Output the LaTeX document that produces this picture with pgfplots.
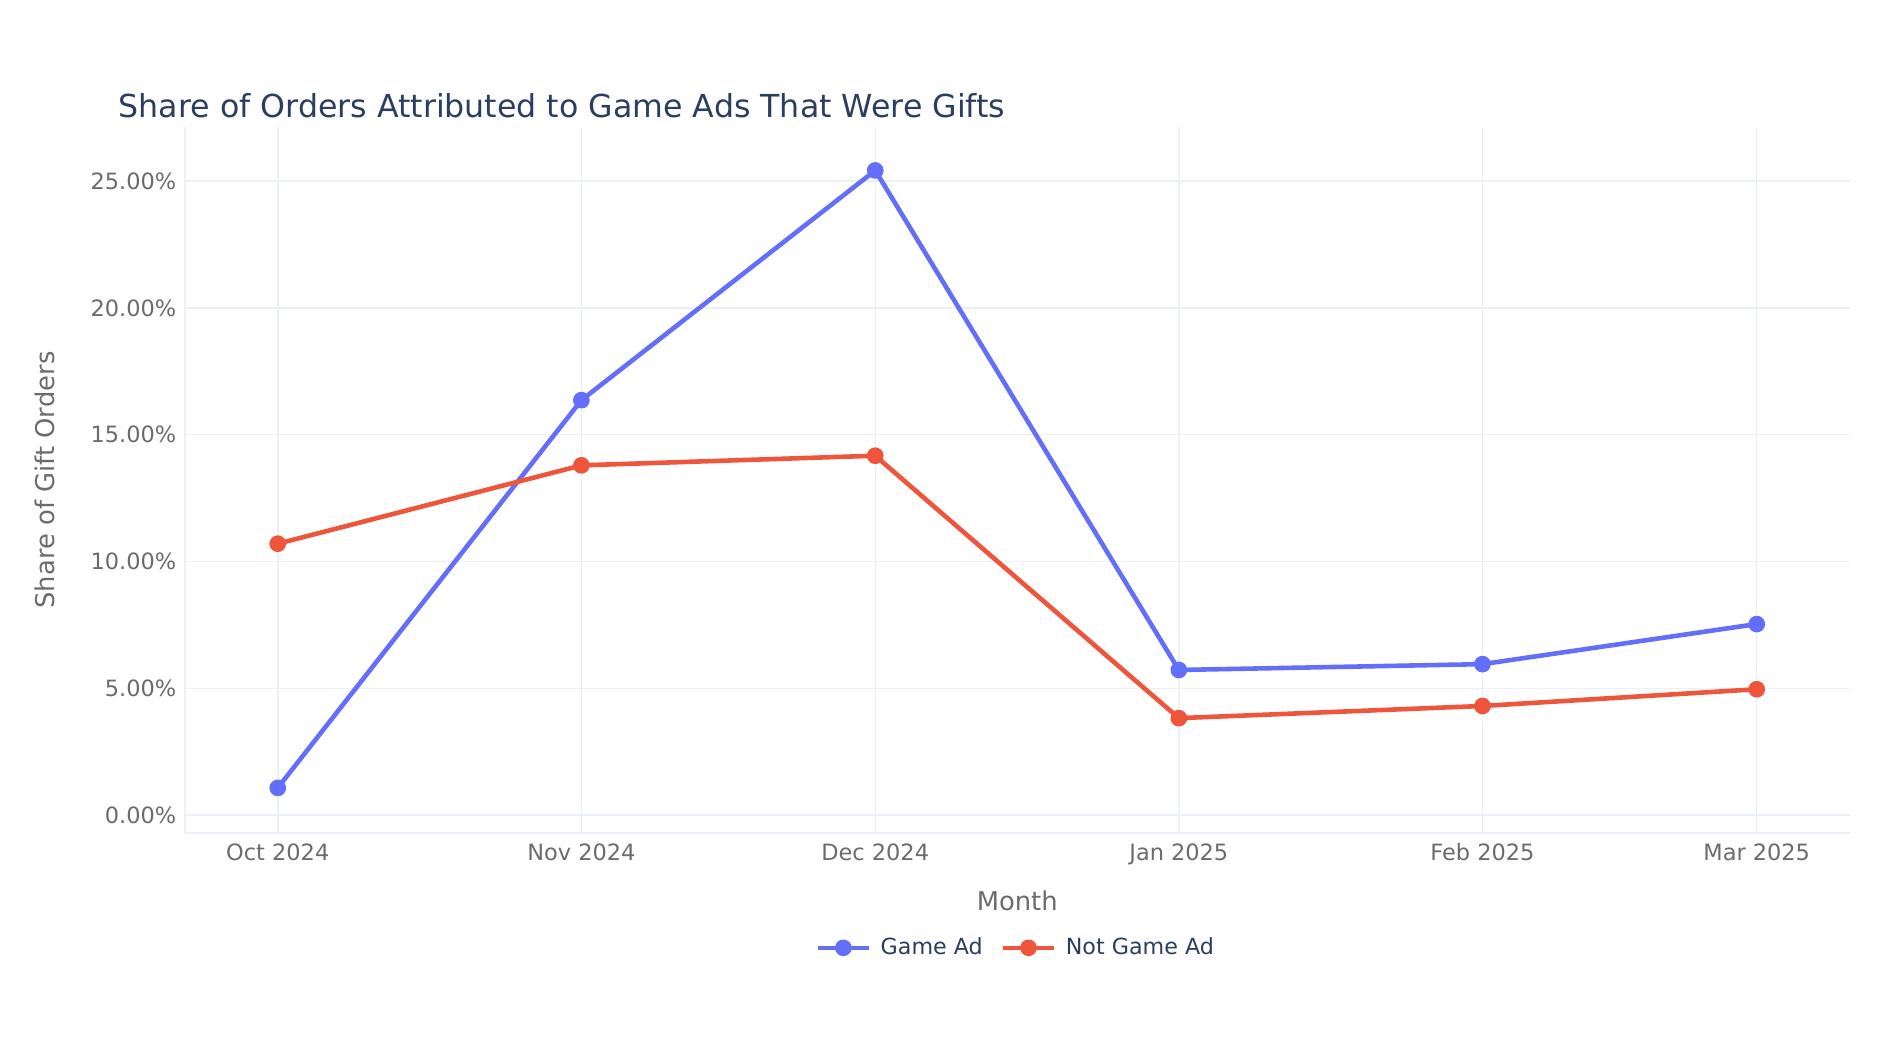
\documentclass[border=0pt]{standalone}
\usepackage{pgfplots}
\pgfplotsset{compat=1.18}
\usepackage{fontspec}
\setmainfont{DejaVu Sans}
\definecolor{gameblue}{HTML}{636EFA}
\definecolor{notred}{HTML}{EF553B}
\definecolor{titlec}{HTML}{2A3F5F}
\definecolor{gridc}{HTML}{EBF0F8}
\definecolor{tickc}{HTML}{6B6B6B}
\begin{document}
\begin{tikzpicture}
\path[use as bounding box] (0,0) rectangle (783.5pt,-440.6pt);
\begin{axis}[
  at={(76.5pt,-345pt)}, anchor=south west,
  width=689.5pt, height=292.5pt, scale only axis,
  xmin=-9.5, xmax=160.5, ymin=-0.714, ymax=27.143,
  axis x line*=bottom, axis y line*=left,
  axis line style={draw=gridc, line width=0.7pt, -},
  xtick={0,31,61,92,123,151},
  xticklabels={Oct 2024,Nov 2024,Dec 2024,Jan 2025,Feb 2025,Mar 2025},
  ytick={0,5,10,15,20,25},
  yticklabel={\pgfmathprintnumber[fixed,fixed zerofill,precision=2,assume math mode=true]{\tick}\%},
  extra y ticks={0}, extra y tick labels={},
  extra y tick style={major grid style={draw=gridc, line width=1.2pt}},
  major tick length=0pt,
  grid=major,
  major grid style={draw=gridc, line width=0.6pt},
  xticklabel style={font=\fontsize{9.3}{11}\selectfont, text=tickc, anchor=base, yshift=-11.5pt},
  yticklabel style={font=\fontsize{9.3}{11}\selectfont, text=tickc, anchor=east},
  title={Share of Orders Attributed to Game Ads That Were Gifts},
  every axis title/.style={at={(axis description cs:-0.0399,1.0137)}, anchor=base west, font=\fontsize{13.1}{15}\selectfont, text=titlec, inner sep=0pt},
  xlabel={Month},
  xlabel style={at={(axis description cs:0.5,-0.0957)}, anchor=center, font=\fontsize{10.7}{12}\selectfont, text=tickc},
  ylabel={Share of Gift Orders},
  ylabel style={at={(axis description cs:-0.0841,0.5)}, anchor=center, font=\fontsize{10.7}{12}\selectfont, text=tickc},
  legend style={at={(axis description cs:0.5,-0.1624)}, anchor=center, draw=none, fill=none,
    legend columns=2, font=\fontsize{9.2}{11}\selectfont, text=titlec,
    /tikz/every odd column/.append style={column sep=2pt},
    /tikz/every even column/.append style={column sep=5.5pt}},
  legend image code/.code={\draw[mark repeat=2,mark phase=2,#1] plot coordinates {(0pt,0pt) (10.5pt,0pt) (21pt,0pt)};},
  clip=false,
]
\addplot[color=gameblue, line width=1.9pt, line join=round, mark=*, mark size=2.5pt, mark options={solid}]
  coordinates {(0,1.07) (31,16.36) (61,25.42) (92,5.72) (123,5.95) (151,7.53)};
\addlegendentry{Game Ad}
\addplot[color=notred, line width=1.9pt, line join=round, mark=*, mark size=2.5pt, mark options={solid}]
  coordinates {(0,10.70) (31,13.79) (61,14.17) (92,3.82) (123,4.30) (151,4.96)};
\addlegendentry{Not Game Ad}
\end{axis}
\end{tikzpicture}
\end{document}
